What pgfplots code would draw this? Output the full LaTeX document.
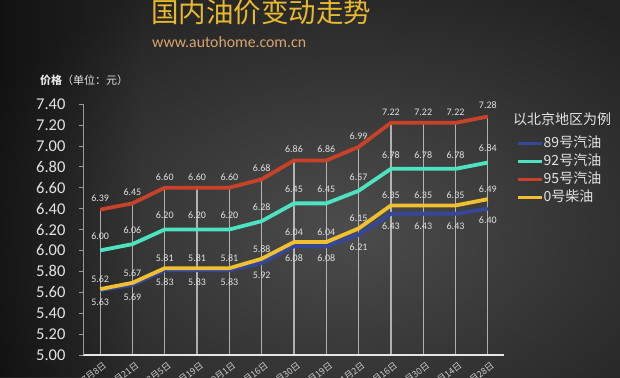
\documentclass[border=0pt]{standalone}
\usepackage{fontspec}
\setmainfont{Carlito}
\newfontfamily\cjk{Noto Sans CJK SC}
\usepackage{pgfplots}
\pgfplotsset{compat=1.18}
\usepackage{pgfplotstable}
\usetikzlibrary{fadings}

\definecolor{bgin}{HTML}{4C4C4C}
\definecolor{bgout}{HTML}{222222}
\definecolor{cred}{HTML}{C8422A}
\definecolor{cteal}{HTML}{4DE3C0}
\definecolor{cyel}{HTML}{F0C030}
\definecolor{cblue}{HTML}{34479A}
\definecolor{lbl}{HTML}{E2E2E2}
\definecolor{gold}{HTML}{E8B92E}
\definecolor{tan}{HTML}{D9A46E}

\pgfplotstableread{
x y label
0 6.39 6.39
1 6.45 6.45
2 6.60 6.60
3 6.60 6.60
4 6.60 6.60
5 6.68 6.68
6 6.86 6.86
7 6.86 6.86
8 6.99 6.99
9 7.22 7.22
10 7.22 7.22
11 7.22 7.22
12 7.28 7.28
}\redtab
\pgfplotstableread{
x y label
0 6.00 6.00
1 6.06 6.06
2 6.20 6.20
3 6.20 6.20
4 6.20 6.20
5 6.28 6.28
6 6.45 6.45
7 6.45 6.45
8 6.57 6.57
9 6.78 6.78
10 6.78 6.78
11 6.78 6.78
12 6.84 6.84
}\tealtab
\pgfplotstableread{
x y label
0 5.63 5.62
1 5.69 5.67
2 5.83 5.81
3 5.83 5.81
4 5.83 5.81
5 5.92 5.88
6 6.08 6.04
7 6.08 6.04
8 6.21 6.15
9 6.43 6.35
10 6.43 6.35
11 6.43 6.35
12 6.49 6.49
}\yeltab
\pgfplotstableread{
x y label
0 5.62 5.63
1 5.67 5.69
2 5.81 5.83
3 5.81 5.83
4 5.81 5.83
5 5.88 5.92
6 6.04 6.08
7 6.04 6.08
8 6.15 6.21
9 6.35 6.43
10 6.35 6.43
11 6.35 6.43
12 6.40 6.40
}\bluetab

\begin{document}
\begin{tikzpicture}
\useasboundingbox (0,0) rectangle (620pt,377pt);
\clip (0,0) rectangle (620pt,377pt);
\shade[inner color=bgin, outer color=bgout] (-60pt,-120pt) rectangle (760pt,420pt);
\fill[black, opacity=0.45, path fading=east] (0,0) rectangle (140pt,377pt);

\node[font=\cjk\fontsize{27.5}{28}\selectfont, text=gold, anchor=center] at (261pt,365pt) {国内油价变动走势};
\node[font=\fontsize{15.8}{16}\selectfont, text=tan, anchor=west, inner sep=0pt] at (152pt,335pt) {www.autohome.com.cn};
\node[font=\cjk\fontsize{11}{11}\selectfont, text=lbl, anchor=west, inner sep=0pt] at (40pt,297pt) {{\bfseries 价格}（单位：元）};
\node[font=\cjk\fontsize{14}{14}\selectfont, text=lbl, anchor=west, inner sep=0pt] at (513pt,258pt) {以北京地区为例};

\begin{axis}[
  scale only axis, width=421pt, height=251pt,
  at={(83pt,22pt)}, anchor=south west,
  xmin=-0.53, xmax=12.5, ymin=5, ymax=7.4,
  axis lines=left,
  axis line style={-},
  x axis line style={draw=white!90!black, line width=1.3pt},
  y axis line style={draw=white!60!black, line width=0.6pt},
  ytick={5,5.2,...,7.41},
  /pgf/number format/fixed, /pgf/number format/fixed zerofill, /pgf/number format/precision=2,
  /pgf/number format/assume math mode=true,
  yticklabel style={font=\fontsize{16.5}{16.5}\selectfont, text=lbl, xshift=-10pt},
  ytick style={draw=white!60!black, line width=0.6pt},
  tick align=outside, major tick length=4pt,
  xtick={0,...,12},
  xticklabels={7月8日,7月21日,8月5日,8月19日,9月1日,9月16日,9月30日,10月19日,11月2日,11月16日,11月30日,12月14日,12月28日},
  xticklabel style={font=\cjk\fontsize{9}{9}\selectfont, text=white!80!black, rotate=38, anchor=north east, inner sep=1pt, yshift=-2pt, xshift=2pt},
  xtick style={draw=none},
  legend style={at={(1.0214,0.880)}, anchor=north west, draw=none, fill=none,
    font=\cjk\fontsize{14}{14}\selectfont, text=lbl, row sep=4pt,
    nodes={inner sep=0pt, text height=11pt, text depth=3pt}},
  legend cell align=left,
  legend image code/.code={\draw[#1, line width=3.5pt] (0pt,0pt) -- (24pt,0pt);},
  every axis plot/.append style={line join=round},
  nodes near coords style={font=\fontsize{10}{10}\selectfont, text=lbl, anchor=center},
]
\addplot[ycomb, draw=white, draw opacity=0.6, line width=1.2pt, forget plot] table[x=x,y=y] {\redtab};
\addplot[cblue, line width=3.8pt, mark=none, nodes near coords, point meta=explicit symbolic,
  nodes near coords style={yshift=-12pt}] table[x=x,y=y,meta=label] {\bluetab};
\addlegendentry{89号汽油}
\addplot[cteal, line width=3.8pt, mark=none, nodes near coords, point meta=explicit symbolic,
  nodes near coords style={yshift=14pt}] table[x=x,y=y,meta=label] {\tealtab};
\addlegendentry{92号汽油}
\addplot[cred, line width=3.8pt, mark=none, nodes near coords, point meta=explicit symbolic,
  nodes near coords style={yshift=11pt}] table[x=x,y=y,meta=label] {\redtab};
\addlegendentry{95号汽油}
\addplot[cyel, line width=3.8pt, mark=none, nodes near coords, point meta=explicit symbolic,
  nodes near coords style={yshift=10pt}] table[x=x,y=y,meta=label] {\yeltab};
\addlegendentry{0号柴油}
\end{axis}
\end{tikzpicture}
\end{document}
